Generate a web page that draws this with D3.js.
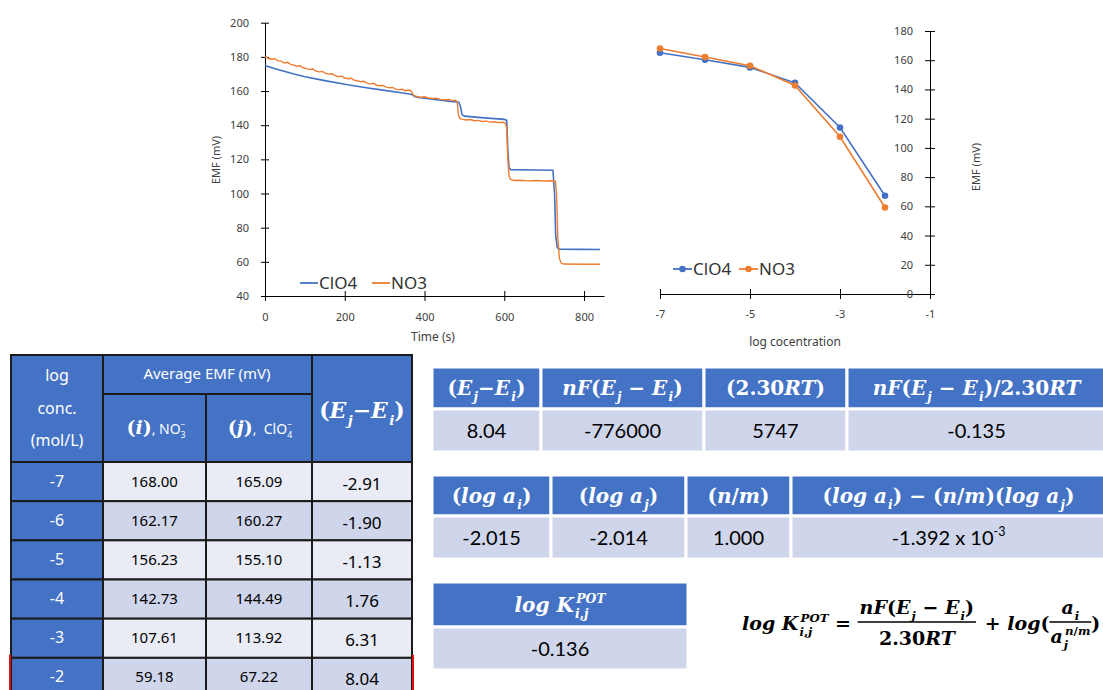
<!DOCTYPE html>
<html>
<head>
<meta charset="utf-8">
<script src="https://cdn.jsdelivr.net/npm/d3@7"></script>
<style>
body { margin: 0; background: #fff; }
svg { display: block; }
</style>
</head>
<body>
<div id="chart"></div>
<script>
// ---- time trace (left chart) ----
var timeClO4 = [0, 25, 50, 75, 100, 150, 200, 250, 300, 350, 368, 375, 385, 420, 460, 486, 490, 494, 500, 550, 600, 606, 609, 612, 616, 680, 722, 726, 729, 733, 738, 790, 840];
var emfClO4Trace = [175.0, 173.0, 171.4, 169.8, 168.4, 166.1, 164.0, 162.1, 160.4, 158.7, 158.0, 156.8, 156.2, 155.2, 154.1, 153.4, 151.0, 146.2, 145.3, 144.3, 143.4, 142.8, 125.0, 115.0, 114.0, 113.8, 113.6, 100.0, 75.0, 68.2, 67.4, 67.3, 67.2];

var timeNO3 = [0, 8, 16, 24, 32, 40, 48, 56, 64, 72, 80, 88, 96, 104, 112, 120, 128, 136, 144, 152, 160, 168, 176, 184, 192, 200, 208, 216, 224, 232, 240, 248, 256, 264, 272, 280, 288, 296, 304, 312, 320, 328, 336, 344, 352, 360, 366, 370, 374, 380, 390, 400, 410, 420, 430, 440, 450, 460, 470, 478, 482, 485, 488, 495, 505, 515, 525, 535, 545, 555, 565, 575, 585, 595, 603, 606, 609, 612, 616, 625, 640, 660, 680, 700, 720, 728, 731, 734, 738, 743, 750, 800, 840];
var emfNO3Trace = [180.0, 179.2, 178.6, 178.9, 177.8, 177.5, 176.4, 176.8, 175.6, 175.2, 174.5, 174.8, 173.6, 173.1, 172.7, 172.9, 171.6, 171.2, 171.5, 170.3, 169.9, 170.1, 169.0, 168.4, 168.7, 167.6, 167.2, 167.5, 166.3, 166.0, 165.4, 165.7, 164.6, 164.2, 164.5, 163.4, 163.1, 163.3, 162.3, 161.9, 162.1, 161.1, 160.8, 161.0, 160.2, 160.6, 160.1, 158.5, 157.2, 156.9, 156.4, 156.6, 155.9, 155.6, 155.8, 155.1, 154.9, 155.0, 154.4, 154.6, 153.5, 146.0, 144.0, 143.4, 143.0, 143.3, 142.6, 142.8, 142.2, 142.4, 141.8, 142.0, 141.5, 141.7, 141.3, 138.0, 120.0, 110.0, 108.2, 107.6, 107.8, 107.4, 107.6, 107.3, 107.5, 107.2, 100.0, 75.0, 62.0, 59.2, 58.7, 58.6, 58.6];

var timeTicks = [0, 200, 400, 600, 800];
var emfTicksA = [40, 60, 80, 100, 120, 140, 160, 180, 200];

// ---- averaged EMF per concentration ----
var logConc = [-7, -6, -5, -4, -3, -2];
var emfNO3 = [168.00, 162.17, 156.23, 142.73, 107.61, 59.18];
var emfClO4 = [165.09, 160.27, 155.10, 144.49, 113.92, 67.22];
var diffE = ["-2.91", "-1.90", "-1.13", "1.76", "6.31", "8.04"];

var concTicks = [-7, -5, -3, -1];
var emfTicksB = [0, 20, 40, 60, 80, 100, 120, 140, 160, 180];

// ---- calculation tables ----
var t2Heads = ["(E_{j}−E_{i})", "nF(E_{j} − E_{i})", "(2.30RT)", "nF(E_{j} − E_{i})/2.30RT"];
var t2Vals = ["8.04", "-776000", "5747", "-0.135"];
var t3Heads = ["(log a_{i})", "(log a_{j})", "(n/m)", "(log a_{i}) − (n/m)(log a_{j})"];
var t3Vals = ["-2.015", "-2.014", "1.000", "-1.392 x 10^{-3}"];
var t4Heads = ["log K_{i,j}^{POT}"];
var t4Vals = ["-0.136"];

var blue = "#4472C4", orange = "#ED7D31";
var SANS = "'Noto Sans', 'Open Sans', sans-serif";
var MATH = "'DejaVu Serif', 'Liberation Serif', serif";
var VAL = "Lato, 'Open Sans', sans-serif";

var svg = d3.select("#chart").append("svg")
  .attr("width", 1103)
  .attr("height", 690);

// text with _{sub} and ^{sup}, returns end x
function mathText(g, src, o) {
  var size = o.size, x = o.x || 0, subX = 0, prevSub = false;
  var re = /([_^])\{([^}]*)\}/g, parts = [], last = 0, m;
  while ((m = re.exec(src))) {
    if (m.index > last) parts.push({k: "n", t: src.slice(last, m.index)});
    parts.push({k: m[1] == "_" ? "sub" : "sup", t: m[2]});
    last = re.lastIndex;
  }
  if (last < src.length) parts.push({k: "n", t: src.slice(last)});
  parts.forEach(function(p) {
    var fs = p.k == "n" ? size : size * 0.62;
    var dy = p.k == "sub" ? size * 0.3 : p.k == "sup" ? -size * 0.42 : 0;
    var x0 = (p.k == "sup" && prevSub) ? subX : x;
    if (p.k != "n" && o.italic) x0 += size * 0.06;
    var runs = o.italic ? p.t.match(/[A-Za-z]+|[^A-Za-z]+/g) : [p.t];
    var cx = x0;
    runs.forEach(function(r) {
      var t = g.append("text")
        .attr("x", cx)
        .attr("y", (o.y || 0) + dy)
        .style("white-space", "pre")
        .attr("font-family", o.font)
        .attr("font-size", fs)
        .attr("font-weight", o.weight || "normal")
        .attr("font-style", o.italic && /[A-Za-z]/.test(r) ? "italic" : "normal")
        .attr("fill", o.color || "#000")
        .text(r);
      cx += t.node().getComputedTextLength();
    });
    if (p.k == "sub") { subX = x0; x = cx; prevSub = true; }
    else if (p.k == "sup" && prevSub) { x = Math.max(x, cx); prevSub = false; }
    else { x = cx; prevSub = false; }
  });
  return x;
}

function centered(parent, cx, baseY, build) {
  var g = parent.append("g");
  var w = build(g);
  g.attr("transform", "translate(" + (cx - w / 2) + "," + baseY + ")");
  return g;
}

function crossTicks(g, horizontal, len) {
  g.select(".domain").attr("stroke", "#000");
  if (horizontal) g.selectAll(".tick line").attr("y1", -len).attr("y2", len).attr("stroke", "#000");
  else g.selectAll(".tick line").attr("x1", -len).attr("x2", len).attr("stroke", "#000");
  g.selectAll(".tick text").attr("font-family", SANS).attr("font-size", 11).attr("fill", "#404040");
}

// ================= left chart : EMF vs time =================
var x1 = d3.scaleLinear().domain([0, 850]).range([265, 604]);
var y1 = d3.scaleLinear().domain([40, 200]).range([296, 22.7]);

var gx1 = svg.append("g")
  .attr("transform", "translate(0," + y1(40) + ")")
  .call(d3.axisBottom(x1).tickValues(timeTicks).tickSizeOuter(0));
crossTicks(gx1, true, 5);
gx1.selectAll(".tick text").attr("y", 17);

var gy1 = svg.append("g")
  .attr("transform", "translate(" + x1(0) + ",0)")
  .call(d3.axisLeft(y1).tickValues(emfTicksA).tickSizeOuter(0));
crossTicks(gy1, false, 4);
gy1.selectAll(".tick text").attr("x", -16);

var trace = d3.line()
  .x(function(d) { return x1(d[0]); })
  .y(function(d) { return y1(d[1]); });

svg.append("path")
  .datum(d3.zip(timeClO4, emfClO4Trace))
  .attr("d", trace)
  .attr("fill", "none")
  .attr("stroke", blue)
  .attr("stroke-width", 1.6);

svg.append("path")
  .datum(d3.zip(timeNO3, emfNO3Trace))
  .attr("d", trace)
  .attr("fill", "none")
  .attr("stroke", orange)
  .attr("stroke-width", 1.4);

svg.append("text")
  .attr("x", 433).attr("y", 341)
  .attr("text-anchor", "middle")
  .attr("font-family", SANS).attr("font-size", 12).attr("fill", "#404040")
  .text("Time (s)");

svg.append("text")
  .attr("transform", "translate(220,160) rotate(-90)")
  .attr("text-anchor", "middle")
  .attr("font-family", SANS).attr("font-size", 11).attr("fill", "#404040")
  .text("EMF (mV)");

// legend
[["ClO4", blue, 300], ["NO3", orange, 372]].forEach(function(l) {
  svg.append("line")
    .attr("x1", l[2]).attr("x2", l[2] + 18)
    .attr("y1", 283).attr("y2", 283)
    .attr("stroke", l[1]).attr("stroke-width", 1.8);
  svg.append("text")
    .attr("x", l[2] + 19).attr("y", 289)
    .attr("font-family", SANS).attr("font-size", 17).attr("fill", "#333")
    .text(l[0]);
});

// ================= right chart : EMF vs log conc =================
var x2 = d3.scaleLinear().domain([-7, -1]).range([660, 930]);
var y2 = d3.scaleLinear().domain([0, 180]).range([294, 31]);

var gx2 = svg.append("g")
  .attr("transform", "translate(0," + y2(0) + ")")
  .call(d3.axisBottom(x2).tickValues(concTicks).tickSizeOuter(0)
    .tickFormat(function(d) { return String(d); }));
crossTicks(gx2, true, 5);
gx2.selectAll(".tick text").attr("y", 16);

var gy2 = svg.append("g")
  .attr("transform", "translate(" + x2(-1) + ",0)")
  .call(d3.axisLeft(y2).tickValues(emfTicksB).tickSizeOuter(0));
crossTicks(gy2, false, 5);
gy2.selectAll(".tick text").attr("x", -17);

var calib = d3.line()
  .x(function(d) { return x2(d[0]); })
  .y(function(d) { return y2(d[1]); });

[[emfClO4, blue], [emfNO3, orange]].forEach(function(s) {
  var pts = d3.zip(logConc, s[0]);
  svg.append("path")
    .datum(pts)
    .attr("d", calib)
    .attr("fill", "none")
    .attr("stroke", s[1])
    .attr("stroke-width", 1.6);
  svg.selectAll(null)
    .data(pts)
    .enter().append("circle")
    .attr("cx", function(d) { return x2(d[0]); })
    .attr("cy", function(d) { return y2(d[1]); })
    .attr("r", 3.3)
    .attr("fill", s[1]);
});

svg.append("text")
  .attr("x", 795).attr("y", 346)
  .attr("text-anchor", "middle")
  .attr("font-family", SANS).attr("font-size", 12).attr("fill", "#404040")
  .text("log cocentration");

svg.append("text")
  .attr("transform", "translate(980,167) rotate(-90)")
  .attr("text-anchor", "middle")
  .attr("font-family", SANS).attr("font-size", 11).attr("fill", "#404040")
  .text("EMF (mV)");

[["ClO4", blue, 673], ["NO3", orange, 739]].forEach(function(l) {
  svg.append("line")
    .attr("x1", l[2]).attr("x2", l[2] + 19)
    .attr("y1", 269).attr("y2", 269)
    .attr("stroke", l[1]).attr("stroke-width", 1.8);
  svg.append("circle")
    .attr("cx", l[2] + 9.5).attr("cy", 269).attr("r", 3.3).attr("fill", l[1]);
  svg.append("text")
    .attr("x", l[2] + 20).attr("y", 275)
    .attr("font-family", SANS).attr("font-size", 17).attr("fill", "#333")
    .text(l[0]);
});

// ================= left table =================
var colX = [11, 103, 206, 312, 412];
var rowY = d3.scaleBand().domain(logConc).range([462, 697]);
var tbl = svg.append("g");
var line = "#1b1b1b";

function cell(x, y, w, h, fill) {
  tbl.append("rect")
    .attr("x", x).attr("y", y).attr("width", w).attr("height", h)
    .attr("fill", fill).attr("stroke", line).attr("stroke-width", 2);
}

cell(colX[0], 355, colX[1] - colX[0], 107, blue);
cell(colX[1], 355, colX[3] - colX[1], 39, blue);
cell(colX[1], 394, colX[2] - colX[1], 68, blue);
cell(colX[2], 394, colX[3] - colX[2], 68, blue);
cell(colX[3], 355, colX[4] - colX[3], 107, blue);

["log", "conc.", "(mol/L)"].forEach(function(t, i) {
  tbl.append("text")
    .attr("x", 57).attr("y", 381 + i * 32.5)
    .attr("text-anchor", "middle")
    .attr("font-family", SANS).attr("font-size", 16).attr("fill", "#fff")
    .text(t);
});
tbl.append("text")
  .attr("x", 207).attr("y", 379)
  .attr("text-anchor", "middle")
  .attr("font-family", SANS).attr("font-size", 15).attr("fill", "#fff")
  .text("Average EMF (mV)");

[["(i)", ", NO_{3}^{−}", 156], ["(j)", ",  ClO_{4}^{−}", 260]].forEach(function(h) {
  centered(tbl, h[2], 434, function(g) {
    var e = mathText(g, h[0], {size: 19, font: MATH, weight: "bold", italic: true, color: "#fff"});
    return mathText(g, h[1], {size: 14, font: SANS, color: "#fff", x: e});
  });
});
centered(tbl, 362, 418, function(g) {
  return mathText(g, "(E_{j}−E_{i})", {size: 22, font: MATH, weight: "bold", italic: true, color: "#fff"});
});

logConc.forEach(function(c, i) {
  var y = rowY(c), h = rowY.bandwidth();
  var fill = i % 2 == 0 ? "#E9EBF5" : "#CFD5EA";
  cell(colX[0], y, colX[1] - colX[0], h, blue);
  cell(colX[1], y, colX[2] - colX[1], h, fill);
  cell(colX[2], y, colX[3] - colX[2], h, fill);
  cell(colX[3], y, colX[4] - colX[3], h, fill);
  var cells = [[String(c), colX[0], "#fff", 16], [emfNO3[i].toFixed(2), colX[1], "#000", 15],
               [emfClO4[i].toFixed(2), colX[2], "#000", 15], [diffE[i], colX[3], "#000", 17]];
  cells.forEach(function(v, k) {
    tbl.append("text")
      .attr("x", (v[1] + colX[k + 1]) / 2)
      .attr("y", y + h / 2 + (k == 3 ? 8 : 5))
      .attr("text-anchor", "middle")
      .attr("font-family", SANS).attr("font-size", v[3]).attr("fill", v[2])
      .text(v[0]);
  });
});

// red highlight on the last row
[colX[0] - 1, colX[4] + 1].forEach(function(x) {
  tbl.append("line")
    .attr("x1", x).attr("x2", x).attr("y1", rowY(-2) - 3).attr("y2", 690)
    .attr("stroke", "#e01010").attr("stroke-width", 2);
});

// ================= calculation tables =================
function smallTable(cols, top, headH, rowH, heads, vals) {
  var g = svg.append("g");
  cols.slice(0, -1).forEach(function(x, i) {
    var w = cols[i + 1] - x;
    g.append("rect")
      .attr("x", x).attr("y", top).attr("width", w).attr("height", headH)
      .attr("fill", blue).attr("stroke", "#fff").attr("stroke-width", 3);
    g.append("rect")
      .attr("x", x).attr("y", top + headH).attr("width", w).attr("height", rowH)
      .attr("fill", "#CFD5EA").attr("stroke", "#fff").attr("stroke-width", 3);
    centered(g, x + w / 2, top + headH / 2 + 7, function(gg) {
      return mathText(gg, heads[i], {size: 20, font: MATH, weight: "bold", italic: true, color: "#fff"});
    });
    centered(g, x + w / 2, top + headH + rowH / 2 + 7, function(gg) {
      return mathText(gg, vals[i], {size: 20, font: VAL, color: "#000"});
    });
  });
}

smallTable([432, 541, 704, 847, 1106], 367, 42, 43, t2Heads, t2Vals);
smallTable([432, 551, 686, 791, 1106], 475, 41, 43, t3Heads, t3Vals);
smallTable([432, 688], 582, 45, 43, t4Heads, t4Vals);

// ================= formula =================
var fm = svg.append("g");
var fo = {size: 19, font: MATH, weight: "bold", italic: true, color: "#000"};
var fx = mathText(fm, "log K_{i,j}^{POT}", Object.assign({}, fo, {x: 742, y: 630}));
fx = mathText(fm, " = ", Object.assign({}, fo, {x: fx, y: 630}));

var numG = fm.append("g"), denG = fm.append("g");
var nw = mathText(numG, "nF(E_{j} − E_{i})", fo);
var dw = mathText(denG, "2.30RT", fo);
var fw = Math.max(nw, dw) + 4;
numG.attr("transform", "translate(" + (fx + (fw - nw) / 2) + ",614)");
denG.attr("transform", "translate(" + (fx + (fw - dw) / 2) + ",645)");
fm.append("line").attr("x1", fx).attr("x2", fx + fw).attr("y1", 622).attr("y2", 622)
  .attr("stroke", "#000").attr("stroke-width", 1.5);
fx += fw + 2;
fx = mathText(fm, " + log(", Object.assign({}, fo, {x: fx, y: 630}));

var aN = fm.append("g"), aD = fm.append("g");
var aw = mathText(aN, "a_{i}", fo);
var bw = mathText(aD, "a_{j}^{n/m}", fo);
var sw = Math.max(aw, bw) + 2;
aN.attr("transform", "translate(" + (fx + (sw - aw) / 2) + ",614)");
aD.attr("transform", "translate(" + (fx + (sw - bw) / 2) + ",643)");
fm.append("line").attr("x1", fx).attr("x2", fx + sw).attr("y1", 622).attr("y2", 622)
  .attr("stroke", "#000").attr("stroke-width", 1.5);
mathText(fm, ")", Object.assign({}, fo, {x: fx + sw, y: 630}));
</script>
</body>
</html>
